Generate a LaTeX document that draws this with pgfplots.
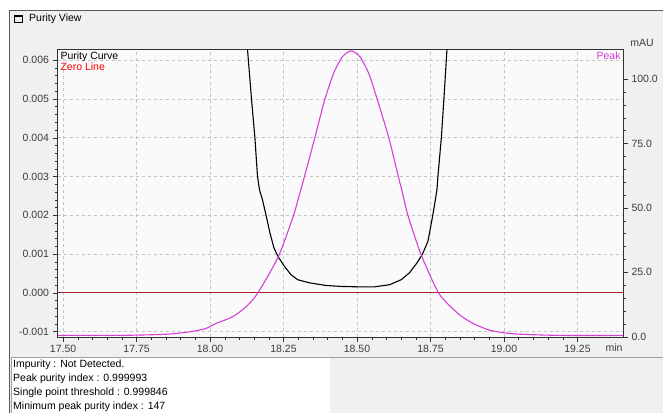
\documentclass[border=0pt]{standalone}
\usepackage{fontspec}
\setmainfont{Liberation Sans}
\usepackage{pgfplots}
\pgfplotsset{compat=1.18}
\definecolor{winbg}{RGB}{240,240,240}
\definecolor{plotbg}{RGB}{250,250,250}
\definecolor{gridc}{RGB}{195,195,195}
\definecolor{axc}{RGB}{50,50,50}
\definecolor{lblc}{RGB}{60,60,60}
\definecolor{peakc}{RGB}{214,64,214}
\definecolor{zeroc}{RGB}{170,30,40}
\newcommand{\uifont}{\fontsize{10.5bp}{13bp}\selectfont}
\begin{document}
\begin{tikzpicture}
\begin{scope}[x=1bp,y=1bp]
\useasboundingbox (0,0) rectangle (663,413);
\fill[white] (0,0) rectangle (663,413);
\fill[winbg] (9,0) rectangle (663,403);
\draw[line width=1.5bp, color={rgb,255:red,90;green,90;blue,90}] (9.5,0) -- (9.5,402.5) -- (663,402.5);
% title icon
\draw[line width=1bp, black] (14.5,390.5) rectangle (22.5,397.5);
\fill[black] (14,395.5) rectangle (23,398);
\node[anchor=west, inner sep=0, font=\uifont, text=black] at (29,394) {Purity View};
% text panel
\fill[white] (11,0) rectangle (330,55);
\draw[color={rgb,255:red,160;green,160;blue,160}] (11.5,0) -- (11.5,55.5) -- (663,55.5);
\node[anchor=north west, align=left, inner sep=0, font=\fontsize{10.5bp}{14bp}\selectfont] at (13,53) {Impurity : Not Detected.\\Peak purity index : 0.999993\\Single point threshold : 0.999846\\Minimum peak purity index : 147};
\end{scope}
\begin{axis}[
  name=main,
  at={(57.5bp,76.3bp)}, anchor=south west,
  width=565.5bp, height=287.4bp, scale only axis,
  xmin=17.481, xmax=19.405, ymin=-0.00113, ymax=0.00628,
  scaled y ticks=false, scaled x ticks=false,
  axis background/.style={fill=plotbg},
  axis line style={axc},
  xtick={17.5,17.75,18,18.25,18.5,18.75,19,19.25},
  xticklabels={17.50,17.75,18.00,18.25,18.50,18.75,19.00,19.25},
  ytick={-0.001,0,0.001,0.002,0.003,0.004,0.005,0.006},
  yticklabels={-0.001,0.000,0.001,0.002,0.003,0.004,0.005,0.006},
  minor x tick num=4, minor y tick num=4,
  xtick pos=bottom, ytick pos=left,
  tick align=outside,
  major tick length=5bp, minor tick length=3bp,
  every tick/.style={axc},
  xmajorgrids, ymajorgrids,
  major grid style={gridc, dash pattern=on 3bp off 3bp, line width=0.8bp},
  ticklabel style={font=\uifont, text=lblc},
  clip=true,
]
\addplot[zeroc, line width=1bp] coordinates {(17.3,0) (19.6,0)};
\addplot[black, line width=1.1bp] coordinates {
(18.1143,0.0075) (18.1273,0.00629) (18.1409,0.00501) (18.1525,0.00401) (18.1614,0.00301)
(18.1682,0.00266) (18.1784,0.00240) (18.1900,0.00202) (18.2037,0.00155) (18.2173,0.00116)
(18.2310,0.00094) (18.2525,0.00069) (18.2753,0.00047) (18.2978,0.00034) (18.3377,0.00026)
(18.3947,0.00019) (18.4500,0.000165) (18.5083,0.000155) (18.5595,0.000155) (18.6106,0.00021)
(18.6505,0.00034) (18.6788,0.00052) (18.7037,0.00077) (18.7222,0.00099) (18.7413,0.00133)
(18.7583,0.00202) (18.7720,0.00266) (18.7754,0.00301) (18.7870,0.00401) (18.7958,0.00501)
(18.8061,0.00629) (18.8187,0.0075)
};
\node[anchor=north west, inner sep=0, font=\uifont, text=black] at (rel axis cs:0.005,0.99) {Purity Curve};
\node[anchor=north west, inner sep=0, font=\uifont, text=red] at (rel axis cs:0.005,0.952) {Zero Line};
\node[anchor=north east, inner sep=0, font=\uifont, text=peakc] at (rel axis cs:0.996,0.99) {Peak};
\end{axis}
\begin{axis}[
  at={(main.south west)}, anchor=south west,
  width=565.5bp, height=287.4bp, scale only axis,
  xmin=17.481, xmax=19.405, ymin=0, ymax=111.6,
  axis x line=none, axis y line*=right,
  axis line style={axc},
  ytick={0,25,50,75,100},
  yticklabels={0.0,25.0,50.0,75.0,100.0},
  minor y tick num=4,
  tick align=outside,
  major tick length=5bp, minor tick length=3bp,
  every tick/.style={axc},
  ticklabel style={font=\uifont, text=lblc},
  clip=true,
]
\addplot[peakc, line width=1.1bp, smooth, tension=0.4] coordinates {
(17.45,0.5) (17.60,0.5) (17.72,0.55) (17.85,0.95) (17.9294,1.86) (17.9854,3.18) (18.0195,5.13)
(18.0761,7.69) (18.1218,11.57) (18.1614,16.78) (18.2320,30.99) (18.2842,47.18)
(18.3012,54.0) (18.3149,59.5) (18.3524,75.5) (18.3889,91.5) (18.42,102.2) (18.45,108.7)
(18.48,111.0) (18.51,108.7) (18.54,102.2) (18.5687,92.23) (18.6082,77.20) (18.6423,61.4)
(18.6526,56.89) (18.6730,47.18) (18.7188,31.65) (18.7788,16.78) (18.8436,9.01)
(18.8947,5.13) (18.9517,2.52) (19.0029,1.48) (19.0540,0.97) (19.19,0.5) (19.45,0.5)
};
\end{axis}
\begin{scope}[x=1bp,y=1bp]
\node[font=\uifont, text=lblc] at (614,65) {min};
\node[font=\uifont, text=lblc] at (642,370) {mAU};
\end{scope}
\end{tikzpicture}
\end{document}
